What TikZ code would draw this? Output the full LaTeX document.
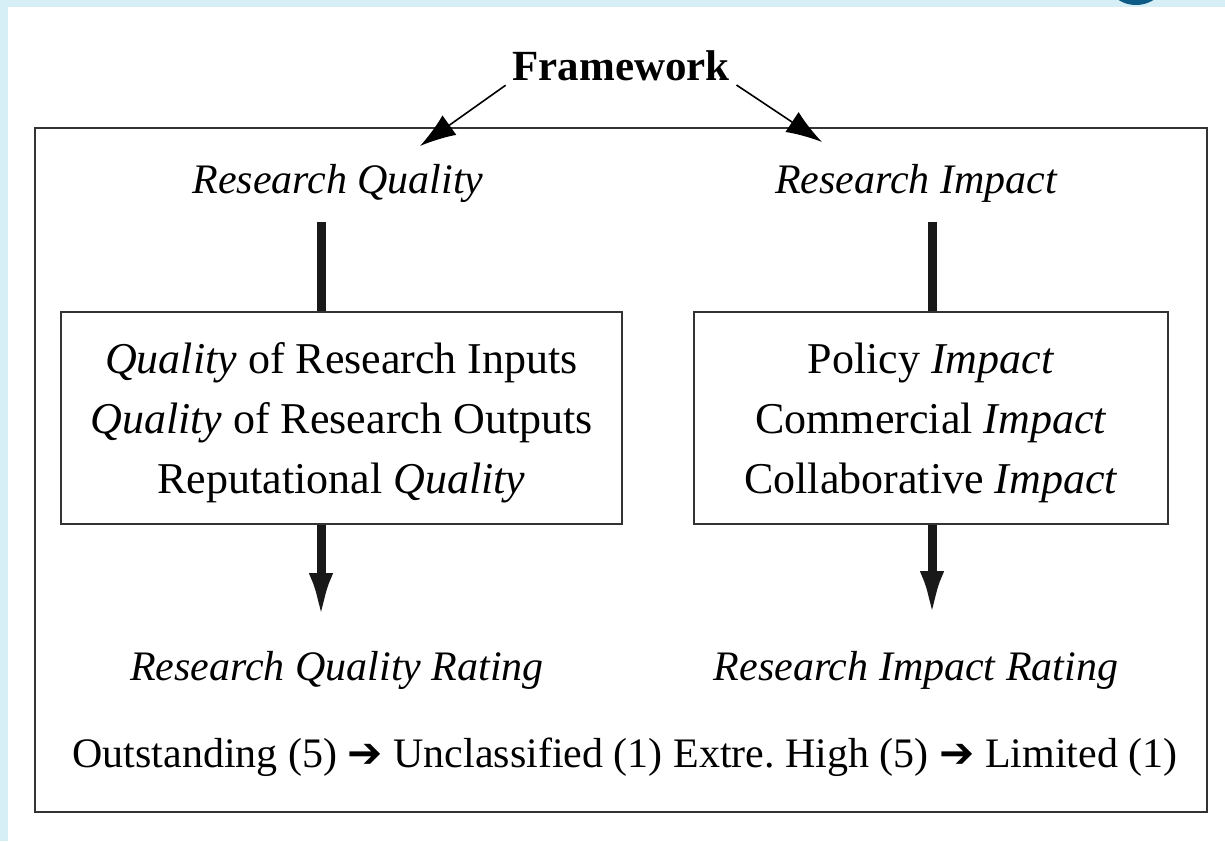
\documentclass[tikz,border=0pt]{standalone}
\usepackage{fontspec}
\setmainfont{Liberation Serif}
\newfontfamily\dingfont{DejaVu Sans}
\usepackage{xcolor}
\usepackage{tikz}
\usetikzlibrary {positioning}
\usetikzlibrary{arrows.meta}
\definecolor{pageblue}{HTML}{D6EEF5}
\definecolor{tabblue}{HTML}{0D5C87}
\tikzset{edge/.style = {-{Latex[length=36pt,width=24pt]}, line width=1.6pt, shorten <=8pt}}
\tikzset{bar/.style = {line width=9pt, black!90}}
\tikzset{bar arrow/.style = {bar, -{Latex[length=48pt,width=24pt]}}}
\newcommand{\heavyarrow}{{\dingfont\char"2794}}
\newcommand{\topstrut}{\rule{0pt}{40pt}}

\begin{document}
\begin{tikzpicture}[x=1pt,y=-1pt,every node/.style={inner sep=0pt},
    label node/.style={font=\fontsize{42}{50}\selectfont\itshape,anchor=base},
    box node/.style={draw=black!80,line width=2pt,minimum height=212pt,align=center,font=\fontsize{44}{60}\selectfont}]
                % page
                \useasboundingbox (0,0) rectangle (1225,841);
                \fill[pageblue] (0,0) rectangle (1225,841);
                \fill[white] (8,7) rectangle (1225,841);
                \begin{scope}
                    \clip (0,0) rectangle (1225,841);
                    \fill[tabblue] (1136,-28) circle (33pt);
                \end{scope}
                \draw[black!80,line width=2pt] (35,128) rectangle (1207,812);

                \node[font=\fontsize{43}{50}\selectfont\bfseries,anchor=base] (fw) at (621,80) {Framework};
                \node[label node] (rq) at (338,193) {Research Quality};
                \node[label node] (ri) at (916,193) {Research Impact};

                \node[box node,minimum width=561pt] (qbox) at (341.5,418)
                    {\topstrut\textit{Quality} of Research Inputs\\ \textit{Quality} of Research Outputs\\ Reputational \textit{Quality}};
                \node[box node,minimum width=474pt] (ibox) at (931,418)
                    {\topstrut Policy \textit{Impact}\\ Commercial \textit{Impact}\\ Collaborative \textit{Impact}};

                \node[label node] (rqr) at (337,680) {Research Quality Rating};
                \node[label node] (rir) at (916,680) {Research Impact Rating};
                \node[font=\fontsize{42}{50}\selectfont,anchor=base] (scale) at (625,767)
                    {Outstanding (5) \heavyarrow{} Unclassified (1) Extre.\ High (5) \heavyarrow{} Limited (1)};

                \coordinate (qtip) at (420,146);
                \coordinate (itip) at (822,142);
                \coordinate (qtop) at (321,222);
                \coordinate (itop) at (932,222);
                \coordinate (qend) at (321,621);
                \coordinate (iend) at (932,619);

                \draw[edge] (fw.south west) -- (qtip);
                \draw[edge] (fw.south east) -- (itip);
                \draw[bar] (qtop) -- (qtop |- qbox.north);
                \draw[bar] (itop) -- (itop |- ibox.north);
                \draw[bar arrow] (qtop |- qbox.south) -- (qend);
                \draw[bar arrow] (itop |- ibox.south) -- (iend);
            \end{tikzpicture}
\end{document}
